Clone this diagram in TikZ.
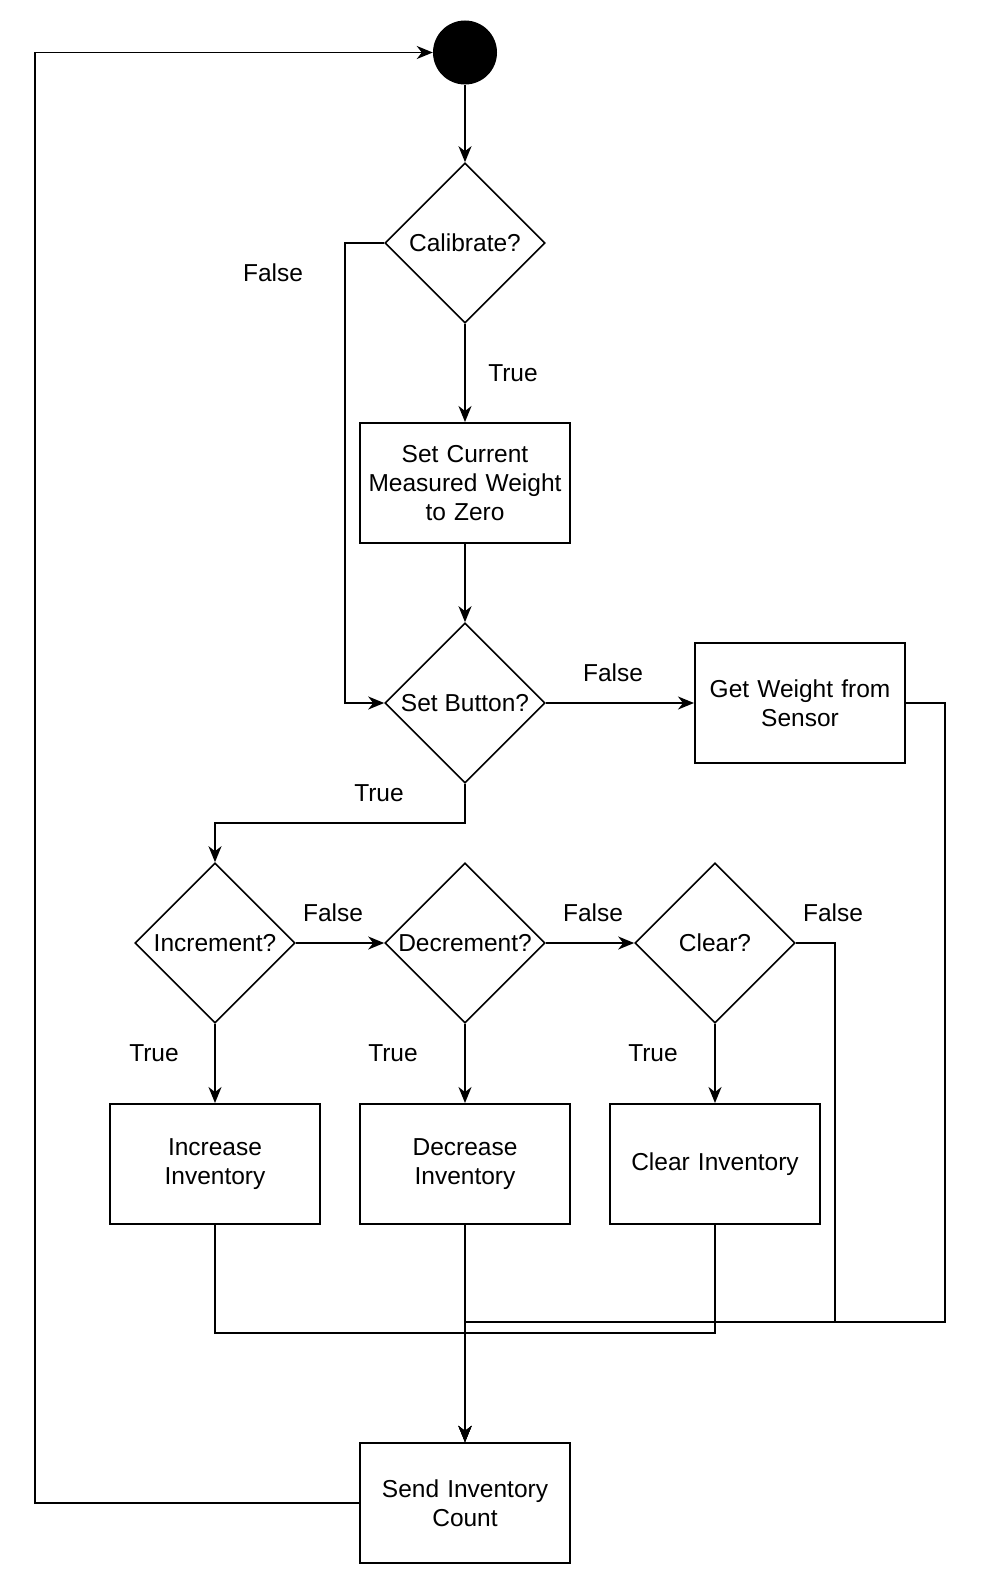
\documentclass[tikz,border=0pt]{standalone}
\usepackage{fontspec}
\setmainfont{Liberation Sans}
\usetikzlibrary{shapes.geometric,arrows.meta}
\begin{document}
\begin{tikzpicture}[x=1pt,y=-1pt,
  every node/.style={font=\fontsize{24.5}{29}\selectfont},
  proc/.style={draw,line width=2pt,minimum width=210pt,minimum height=120pt,inner sep=2pt,align=center,text width=204pt},
  dec/.style={draw,diamond,line width=1.6pt,minimum width=160pt,minimum height=160pt,inner sep=0pt,aspect=1,align=center},
  lbl/.style={inner sep=0pt},
  conn/.style={line width=1.8pt},
  arr/.style={conn,-{Stealth[length=16pt,width=13pt,inset=5pt]}}]
\useasboundingbox (0,0) rectangle (982,1584);
\node[circle,fill=black,minimum size=64pt,inner sep=0pt] (start) at (465,52.5) {};
\node[dec] (cal) at (465,243) {Calibrate?};
\node[proc] (zero) at (465,483) {Set Current\\Measured Weight\\to Zero};
\node[dec] (setb) at (465,703) {Set Button?};
\node[proc] (getw) at (800,703) {Get Weight from\\Sensor};
\node[dec] (inc) at (215,943) {Increment?};
\node[dec] (decr) at (465,943) {Decrement?};
\node[dec] (clr) at (715,943) {Clear?};
\node[proc] (incb) at (215,1164) {Increase\\Inventory};
\node[proc] (decb) at (465,1164) {Decrease\\Inventory};
\node[proc] (clrb) at (715,1164) {Clear Inventory};
\node[proc] (send) at (465,1503) {Send Inventory\\Count};
\coordinate (jA) at (465,1322);
\coordinate (jB) at (465,1333);
% connectors
\draw[arr] (start) -- (cal);
\draw[arr] (cal.west) -- (345,243) -- (345,703) -- (setb.west);
\draw[arr] (cal) -- (zero);
\draw[arr] (zero) -- (setb);
\draw[arr] (setb) -- (getw);
\draw[arr] (setb.south) -- (465,823) -- (215,823) -- (inc.north);
\draw[arr] (inc) -- (decr);
\draw[arr] (decr) -- (clr);
\draw[arr] (inc) -- (incb);
\draw[arr] (decr) -- (decb);
\draw[arr] (clr) -- (clrb);
\draw[arr] (getw.east) -- (945,703) -- (945,1322) -- (jA) -- (send.north);
\draw[arr] (clr.east) -- (835,943) -- (835,1322) -- (jA) -- (send.north);
\draw[arr] (incb.south) -- (215,1333) -- (jB) -- (send.north);
\draw[arr] (clrb.south) -- (715,1333) -- (jB) -- (send.north);
\draw[arr] (decb) -- (send);
\draw[arr] (send.west) -- (35,1503) -- (35,52.5) -- (start.west);
% labels
\node[lbl] (l1) at (273,273) {False};
\node[lbl] (l2) at (513,373) {True};
\node[lbl] (l3) at (613,673) {False};
\node[lbl] (l4) at (379,793) {True};
\node[lbl] (l5) at (333,913) {False};
\node[lbl] (l6) at (593,913) {False};
\node[lbl] (l7) at (833,913) {False};
\node[lbl] (l8) at (154,1053) {True};
\node[lbl] (l9) at (393,1053) {True};
\node[lbl] (l10) at (653,1053) {True};
\end{tikzpicture}
\end{document}
